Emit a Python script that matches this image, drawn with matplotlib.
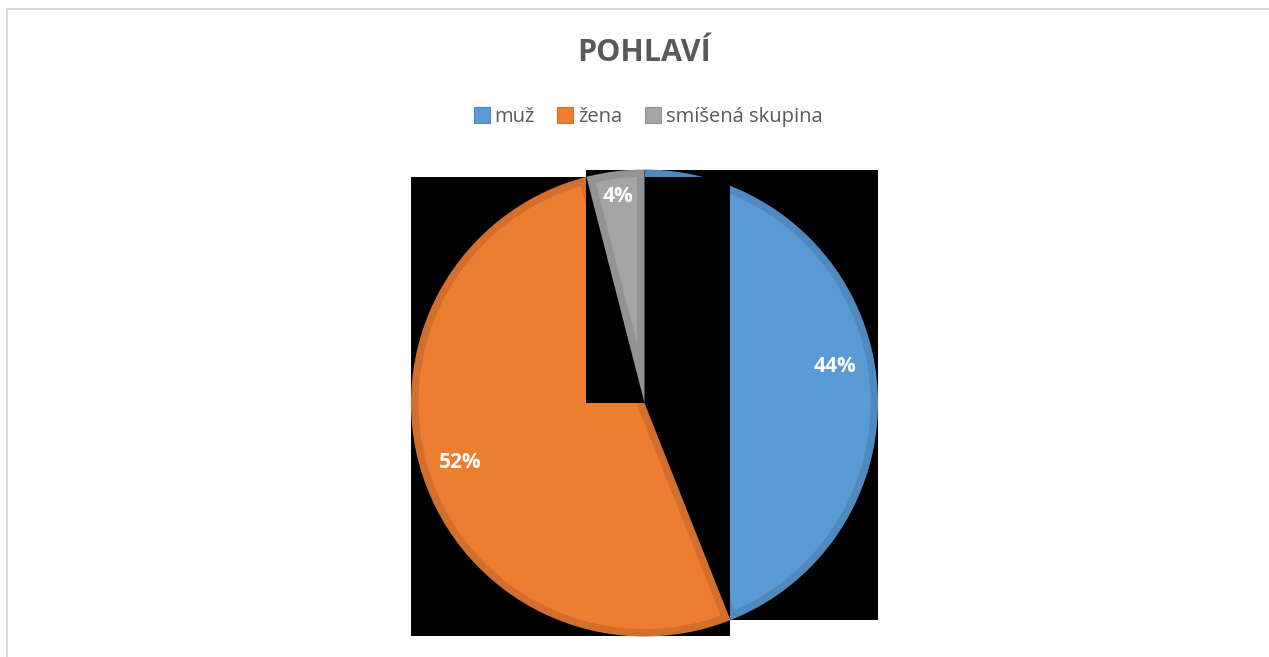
import matplotlib
matplotlib.use("Agg")
import matplotlib.pyplot as plt
from matplotlib.patches import Rectangle, Polygon
import numpy as np

# Data
categories = ["muž", "žena", "smíšená skupina"]
shares = [44, 52, 4]
colors = ["#5B9BD5", "#ED7D31", "#A5A5A5"]
edge_colors = ["#4F89BD", "#D36F2C", "#939393"]
title = "POHLAVÍ"

FONT = ["Open Sans", "DejaVu Sans"]
W, H = 1269, 657
fig = plt.figure(figsize=(W / 100, H / 100), dpi=100)
fig.patch.set_facecolor("white")

# chart border
fig.add_artist(Rectangle((7 / W, -0.1), 1.2, (H - 9) / H + 0.1, transform=fig.transFigure,
                         fill=False, edgecolor="#D9D9D9", linewidth=1.5))

# pie axes: centre (644, 403) px, radius 233 px
cx, cy, r = 644.5, 403, 233.5
ax = fig.add_axes([(cx - r) / W, (H - cy - r) / H, 2 * r / W, 2 * r / H])
wedges, texts, autotexts = ax.pie(
    shares, colors=edge_colors, startangle=90, counterclock=False,
    autopct=lambda p: f"{p:.0f}%", pctdistance=0.83,
    wedgeprops=dict(linewidth=0),
    textprops=dict(color="white", fontsize=15, fontweight="bold", family=FONT),
)
ax.set_xlim(-1, 1)
ax.set_ylim(-1, 1)
ax.set_aspect("equal")
ax.axis("off")


def inset_wedge(theta1, theta2, d):
    """Polygon of a unit wedge shrunk inward by d on every side."""
    half = np.deg2rad(theta2 - theta1) / 2
    mid = np.deg2rad(theta1 + theta2) / 2
    rr = 1 - d
    delta = np.rad2deg(np.arcsin(d / rr))
    a = np.deg2rad(np.linspace(theta1 + delta, theta2 - delta, 200))
    arc = np.column_stack([rr * np.cos(a), rr * np.sin(a)])
    apex_r = d / np.sin(half)
    apex = np.array([[apex_r * np.cos(mid), apex_r * np.sin(mid)]])
    return np.vstack([apex, arc])


# each slice is rendered over a black bounding box, in drawing order
bevel = 7.5 / r
for i, (w, fc) in enumerate(zip(wedges, colors)):
    ext = w.get_path().get_extents()
    ax.add_patch(Rectangle((ext.x0, ext.y0), ext.width, ext.height, facecolor="black",
                           edgecolor="none", zorder=3 * i + 1))
    w.set_zorder(3 * i + 2)
    ax.add_patch(Polygon(inset_wedge(w.theta1, w.theta2, bevel), closed=True,
                         facecolor=fc, edgecolor="none", zorder=3 * i + 2.5))

for t in autotexts:
    t.set_zorder(20)

# small slice label sits slightly further out
w = wedges[2]
mid = np.deg2rad((w.theta1 + w.theta2) / 2)
autotexts[2].set_position((0.89 * np.cos(mid), 0.89 * np.sin(mid)))

fig.text(644 / W, 1 - 53 / H, title, ha="center", va="center", fontsize=22,
         fontweight="bold", color="#595959", family=FONT)

handles = [Rectangle((0, 0), 1, 1, facecolor=c, edgecolor=ec, linewidth=0.8)
           for c, ec in zip(colors, edge_colors)]
fig.legend(handles, categories, loc="center", bbox_to_anchor=(648 / W, 1 - 117 / H),
           ncol=3, frameon=False, handlelength=0.8, handleheight=0.8,
           handletextpad=0.25, columnspacing=1.1,
           prop=dict(family=FONT, size=14.5), labelcolor="#595959")

fig.savefig("out.png", dpi=100)
